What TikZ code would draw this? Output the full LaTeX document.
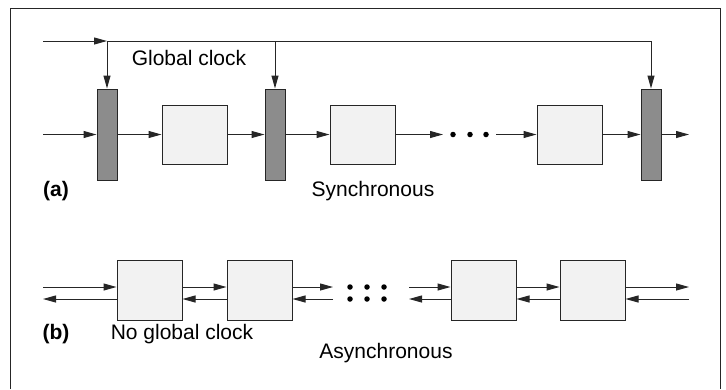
\documentclass[tikz,border=0pt]{standalone}
\usepackage{fontspec}
\setmainfont{Liberation Sans}
\usetikzlibrary{arrows.meta, positioning}
\definecolor{reggray}{HTML}{8C8C8C}
\definecolor{blockgray}{HTML}{F2F2F2}
\definecolor{linegray}{HTML}{262626}

\begin{document}
\begin{tikzpicture}[
    x = 1pt, y = -1pt,
    > = {Triangle[length = 13pt, width = 7pt]},
    line width = 1pt,
    draw = linegray,
    font = \fontsize{21}{25}\selectfont,
    reg/.style   = {rectangle, draw = linegray, fill = reggray, minimum width = 20pt, minimum height = 91pt, inner sep = 0pt},
    block/.style = {rectangle, draw = linegray, fill = blockgray, minimum width = 65pt, minimum height = 59pt, inner sep = 0pt},
    dot/.style   = {circle, fill = black, inner sep = 0pt, minimum size = 5.5pt}
]
\useasboundingbox (0,0) rectangle (726,389);

% Frame (open at the bottom)
\draw (10,389) -- (10,8) -- (720,8) -- (720,389);

% (a) Synchronous
\node[reg]                          (reg1) at (107,134.5) {};
\node[block, right = 44pt of reg1]  (box1) {};
\node[reg,   right = 37pt of box1]  (reg2) {};
\node[block, right = 44pt of reg2]  (box2) {};
\node[block]                        (box3) at (569.5,134.5) {};
\node[reg,   right = 38pt of box3]  (reg3) {};

\node[dot] (d1) at (453,134.5) {};
\node[dot] (d2) at (470,134.5) {};
\node[dot] (d3) at (486,134.5) {};

\coordinate (clkin) at (43,41);
\coordinate (clk1)  at (reg1.north |- clkin);
\coordinate (clk2)  at (reg2.north |- clkin);
\coordinate (clk3)  at (reg3.north |- clkin);
\coordinate (din)   at (43,134.5);
\coordinate (dout)  at (689,134.5);
\coordinate (gapl)  at (443,134.5);
\coordinate (gapr)  at (496,134.5);

\draw[->] (clkin) -- (clk1);
\draw     (clk1) -- (clk3);
\draw[->] (clk1) -- (reg1);
\draw[->] (clk2) -- (reg2);
\draw[->] (clk3) -- (reg3);

\draw[->] (din)  -- (reg1);
\draw[->] (reg1) -- (box1);
\draw[->] (box1) -- (reg2);
\draw[->] (reg2) -- (box2);
\draw[->] (box2) -- (gapl);
\draw[->] (gapr) -- (box3);
\draw[->] (box3) -- (reg3);
\draw[->] (reg3) -- (dout);

\node (clklabel) at (189,58)  {Global clock};
\node (alabel)   at (56,191)  {\bfseries (a)};
\node (sync)     at (373,191) {Synchronous};

% (b) Asynchronous
\node[block, minimum height = 60pt] (blA) at (149.5,290) {};
\node[block, minimum height = 60pt, right = 44pt of blA] (blB) {};
\node[block, minimum height = 60pt] (blC) at (483.5,290) {};
\node[block, minimum height = 60pt, right = 43pt of blC] (blD) {};

\node[dot] (e1) at (350,287) {};
\node[dot] (e2) at (367,287) {};
\node[dot] (e3) at (384,287) {};
\node[dot] (f1) at (350,299) {};
\node[dot] (f2) at (367,299) {};
\node[dot] (f3) at (384,299) {};

\coordinate (inA)  at (43,290);
\coordinate (outB) at (333,290);
\coordinate (inC)  at (409,290);
\coordinate (outD) at (689,290);

\draw[->] ([yshift=3pt]inA)   -- ([yshift=3pt]blA.west);
\draw[->] ([yshift=-9pt]blA.west) -- ([yshift=-9pt]inA);
\draw[->] ([yshift=3pt]blA.east)  -- ([yshift=3pt]blB.west);
\draw[->] ([yshift=-9pt]blB.west) -- ([yshift=-9pt]blA.east);
\draw[->] ([yshift=3pt]blB.east)  -- ([yshift=3pt]outB);
\draw[->] ([yshift=-9pt]outB) -- ([yshift=-9pt]blB.east);

\draw[->] ([yshift=3pt]inC)   -- ([yshift=3pt]blC.west);
\draw[->] ([yshift=-9pt]blC.west) -- ([yshift=-9pt]inC);
\draw[->] ([yshift=3pt]blC.east)  -- ([yshift=3pt]blD.west);
\draw[->] ([yshift=-9pt]blD.west) -- ([yshift=-9pt]blC.east);
\draw[->] ([yshift=3pt]blD.east)  -- ([yshift=3pt]outD);
\draw[->] ([yshift=-9pt]outD) -- ([yshift=-9pt]blD.east);

\node (blabel)  at (56,334)  {\bfseries (b)};
\node (noclock) at (182,334) {No global clock};
\node (async)   at (386,353) {Asynchronous};

\end{tikzpicture}
\end{document}
